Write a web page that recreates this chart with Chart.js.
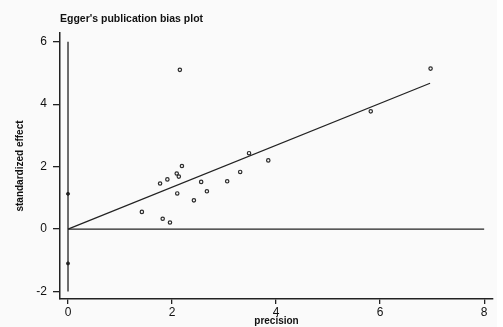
<!DOCTYPE html>
<html>
<head>
<meta charset="utf-8">
<script src="https://cdn.jsdelivr.net/npm/chart.js@4"></script>
<style>
  body { margin: 0; background: #ffffff; }
  #wrap { width: 503px; height: 327px; }
</style>
</head>
<body>
<div id="wrap"><canvas id="egger" width="503" height="327"></canvas></div>
<script>
// studies: precision (1/SE) vs standardized effect
const precision = [1.42, 1.82, 1.96, 1.77, 1.91, 2.09, 2.13, 2.19, 2.10, 2.42, 2.56, 2.67, 3.06, 3.31, 3.48, 3.85, 5.82, 6.97, 2.15];
const stdEffect = [0.55, 0.33, 0.21, 1.46, 1.59, 1.78, 1.68, 2.02, 1.14, 0.92, 1.51, 1.21, 1.53, 1.83, 2.43, 2.20, 3.77, 5.14, 5.10];

// regression line (start / end)
const fitX = [0, 6.96];
const fitY = [0, 4.67];

// intercept confidence limits at precision 0
const ciY = [1.13, -1.10];

// reference lines
const vLineY = [-2, 6];
const hLineX = [0, 8];

const xTicks = [0, 2, 4, 6, 8];
const yTicks = [-2, 0, 2, 4, 6];

const ink = '#222222';

function pts(xs, ys) {
    return xs.map((x, i) => ({ x: x, y: ys[i] }));
}

const titlePlugin = {
    id: 'plotTitle',
    afterDraw(chart) {
        const ctx = chart.ctx;
        ctx.save();
        ctx.font = 'bold 10.5px "Liberation Sans", Arial, sans-serif';
        ctx.fillStyle = '#111';
        ctx.textBaseline = 'middle';
        ctx.fillText("Egger's publication bias plot", 60, 19);
        ctx.restore();
    }
};

const bgPlugin = {
    id: 'bg',
    beforeDraw(chart) {
        const ctx = chart.ctx;
        ctx.save();
        ctx.fillStyle = '#fafafa';
        ctx.fillRect(0, 0, 497, 327);
        ctx.restore();
    }
};

new Chart(document.getElementById('egger'), {
    type: 'scatter',
    data: {
        datasets: [
            {
                label: 'studies',
                data: pts(precision, stdEffect),
                pointRadius: 1.7,
                pointBorderWidth: 1.2,
                pointBackgroundColor: 'rgba(0,0,0,0)',
                pointBorderColor: '#2a2a2a',
                showLine: false
            },
            {
                label: 'fit',
                data: pts(fitX, fitY),
                showLine: true,
                borderColor: ink,
                borderWidth: 1.3,
                pointRadius: 0
            },
            {
                label: 'vline',
                data: pts([0, 0], vLineY),
                showLine: true,
                borderColor: ink,
                borderWidth: 1.3,
                pointRadius: 0
            },
            {
                label: 'hline',
                data: pts(hLineX, [0, 0]),
                showLine: true,
                borderColor: ink,
                borderWidth: 1.3,
                pointRadius: 0
            },
            {
                label: 'ci',
                data: pts([0, 0], ciY),
                showLine: false,
                pointRadius: 1.5,
                pointBackgroundColor: ink,
                pointBorderColor: ink
            }
        ]
    },
    options: {
        responsive: false,
        animation: false,
        layout: { padding: { top: 33, right: 10, left: 0, bottom: 0 } },
        plugins: {
            legend: { display: false },
            tooltip: { enabled: false }
        },
        scales: {
            x: {
                type: 'linear',
                min: -0.154,
                max: 8.17,
                afterBuildTicks: s => { s.ticks = xTicks.map(v => ({ value: v })); },
                afterFit: s => { s.height = 28; },
                grid: { drawOnChartArea: false, drawTicks: true, tickLength: 5, tickColor: ink, lineWidth: 1.3 },
                border: { display: true, color: ink, width: 1.5 },
                ticks: { color: '#111', padding: 1, font: { family: 'Liberation Sans', size: 12 }, maxRotation: 0 },
                title: { display: true, text: 'precision', color: '#111', padding: 0, font: { family: 'Liberation Sans', size: 10, weight: 'bold' } }
            },
            y: {
                type: 'linear',
                min: -2.24,
                max: 6.28,
                afterBuildTicks: s => { s.ticks = yTicks.map(v => ({ value: v })); },
                afterFit: s => { s.width = 60; },
                grid: { drawOnChartArea: false, drawTicks: true, tickLength: 7, tickColor: ink, lineWidth: 1.3 },
                border: { display: true, color: ink, width: 1.5 },
                ticks: { color: '#111', padding: 6, font: { family: 'Liberation Sans', size: 12 } },
                title: { display: true, text: 'standardized effect', color: '#111', padding: { top: 14, bottom: 0 }, font: { family: 'Liberation Sans', size: 10, weight: 'bold' } }
            }
        }
    },
    plugins: [bgPlugin, titlePlugin]
});
</script>
</body>
</html>
